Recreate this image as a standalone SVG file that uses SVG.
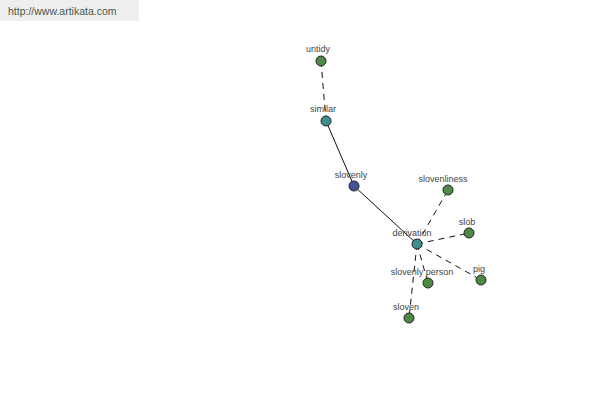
<svg xmlns="http://www.w3.org/2000/svg" width="600" height="400" viewBox="0 0 600 400">
<style>
.lbl{font-family:"Liberation Sans",Arial,sans-serif;font-size:9px;fill:#444;text-anchor:middle}
.n{stroke:#222;stroke-width:1}
.g{fill:#4e8a45}
.t{fill:#3f8f8f}
.b{fill:#43519a}
.e{stroke:#111;stroke-width:1;fill:none}
.d{stroke-dasharray:6,5}
</style>
<rect width="600" height="400" fill="#fff"/>
<g id="header">
<rect x="0" y="0" width="139" height="21" fill="#eeeeee"/>
<text x="8" y="15" style="font-family:'Liberation Sans',Arial,sans-serif;font-size:10.5px;fill:#4a5a4a">http://www.artikata.com</text>
</g>
<g id="connectors">
<line class="e d" x1="321" y1="61" x2="326" y2="121"/>
<line class="e" x1="326" y1="121" x2="354" y2="186"/>
<line class="e" x1="354" y1="186" x2="417" y2="244"/>
<line class="e d" x1="417" y1="244" x2="448" y2="190"/>
<line class="e d" x1="417" y1="244" x2="469" y2="233"/>
<line class="e d" x1="417" y1="244" x2="481" y2="280"/>
<line class="e d" x1="417" y1="244" x2="428" y2="283"/>
<line class="e d" x1="417" y1="244" x2="409" y2="318"/>
</g>
<g id="untidy"><circle class="n g" cx="321" cy="61" r="5"/><text class="lbl" x="318" y="52">untidy</text></g>
<g id="similar"><circle class="n t" cx="326" cy="121" r="5"/><text class="lbl" x="323" y="112">similar</text></g>
<g id="slovenly"><circle class="n b" cx="354" cy="186" r="5"/><text class="lbl" x="351" y="178">slovenly</text></g>
<g id="derivation"><circle class="n t" cx="417" cy="244" r="5"/><text class="lbl" x="412" y="236">derivation</text></g>
<g id="slovenliness"><circle class="n g" cx="448" cy="190" r="5"/><text class="lbl" x="443" y="182">slovenliness</text></g>
<g id="slob"><circle class="n g" cx="469" cy="233" r="5"/><text class="lbl" x="467" y="225">slob</text></g>
<g id="pig"><circle class="n g" cx="481" cy="280" r="5"/><text class="lbl" x="479" y="272">pig</text></g>
<g id="slovenly_person"><circle class="n g" cx="428" cy="283" r="5"/><text class="lbl" x="422" y="275">slovenly person</text></g>
<g id="sloven"><circle class="n g" cx="409" cy="318" r="5"/><text class="lbl" x="406" y="310">sloven</text></g>
</svg>
